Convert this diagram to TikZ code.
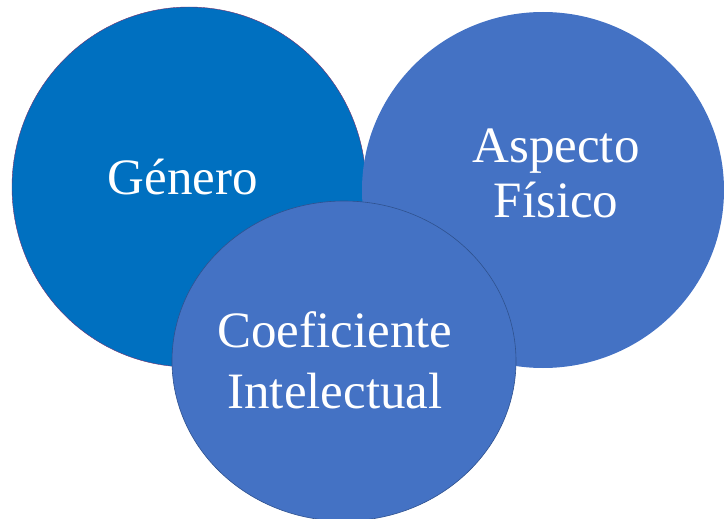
\documentclass[tikz,border=0pt]{standalone}
\usepackage{fontspec}
\setmainfont{Liberation Serif}
\usetikzlibrary{shapes.geometric}
\definecolor{genblue}{RGB}{0,112,192}
\definecolor{setblue}{RGB}{68,114,196}
\definecolor{rimblue}{RGB}{47,82,143}
\definecolor{rimred}{RGB}{112,48,110}
\begin{document}
\begin{tikzpicture}[x=1pt,y=-1pt,
    bubble/.style={ellipse,inner sep=0pt,minimum width=2*#1},
    word/.style={text=white,align=center,anchor=base}]
  \useasboundingbox (0,0) rectangle (724,519);
  \clip (0,0) rectangle (724,519);
  % circles, back to front
  \node[bubble=177pt,minimum height=360pt,fill=genblue,draw=rimred,line width=0.4pt](genero) at (189,187){};
  \node[bubble=181pt,minimum height=356pt,fill=setblue](aspecto) at (543,190){};
  \node[bubble=172pt,minimum height=320pt,fill=setblue,draw=rimblue,line width=0.6pt](coef) at (344,361){};
  % labels (base = last line)
  \node[word,font=\fontsize{51}{55}\selectfont](tgenero) at (183,194){Género};
  \node[word,font=\fontsize{51}{55}\selectfont](taspecto) at (556,217){Aspecto\\Físico};
  \node[word,font=\fontsize{51}{61}\selectfont](tcoef) at (335,408){Coeficiente\\Intelectual};
\end{tikzpicture}
\end{document}
